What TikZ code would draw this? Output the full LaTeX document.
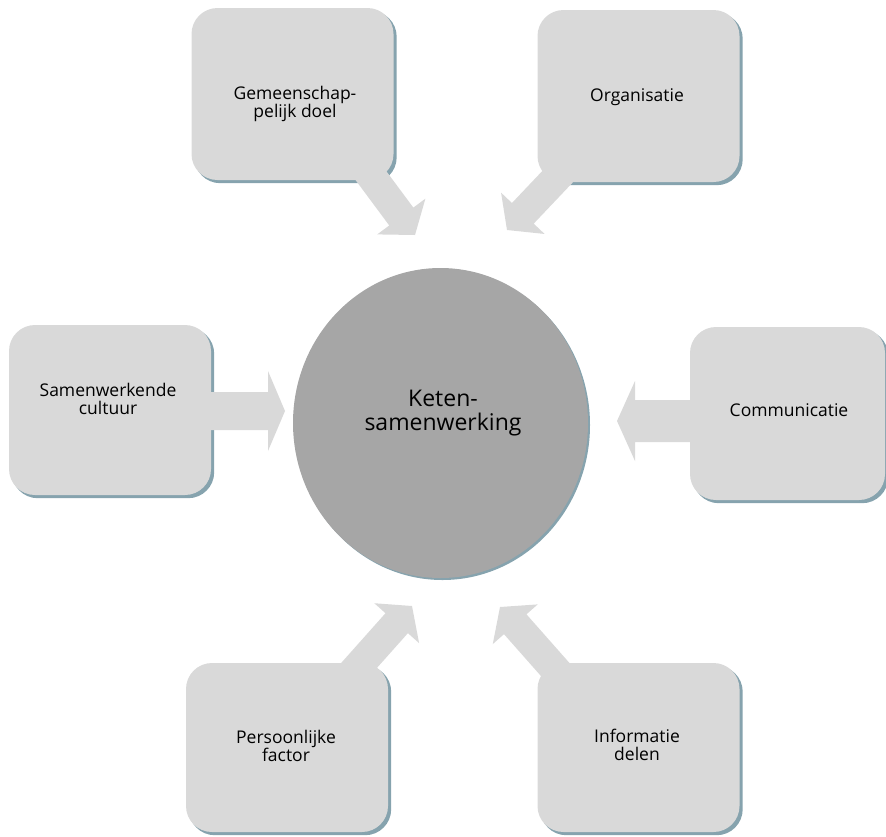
\documentclass[tikz,border=0pt]{standalone}
\usepackage{fontspec}
\setmainfont{Open Sans}
\usetikzlibrary{calc,shapes.geometric}
\pgfdeclarelayer{shadowlayer}
\pgfdeclarelayer{arrowlayer}
\pgfsetlayers{shadowlayer,arrowlayer,main}
\definecolor{boxfill}{HTML}{D9D9D9}
\definecolor{circfill}{HTML}{A6A6A6}
\definecolor{shadowc}{HTML}{86A3AE}
\tikzset{
  box/.style={fill=boxfill, rounded corners=26pt, inner sep=0pt,
    minimum width=202pt, minimum height=172pt},
  boxtext/.style={font=\fontsize{17.5}{18}\selectfont, align=center, inner sep=0pt},
  centertext/.style={font=\fontsize{23}{24}\selectfont, align=center, inner sep=0pt},
  hub/.style={ellipse, fill=circfill, inner sep=0pt,
    minimum width=295pt, minimum height=310pt},
}
\newcommand\boxshadow[1]{%
  \begin{pgfonlayer}{shadowlayer}
    \fill[shadowc, rounded corners=26pt] ($(#1.south west)+(3,3)$) rectangle ($(#1.north east)+(3,3)$);
  \end{pgfonlayer}}
% #1 start, #2 tip, #3 half shaft, #4 half head, #5 head length
\newcommand\blockarrow[5]{%
  \begin{pgfonlayer}{arrowlayer}
    \coordinate (hb) at ($(#2)!#5!(#1)$);
    \fill[boxfill] (#2) -- ($(hb)!#4!90:(#2)$) -- ($(hb)!#3!90:(#2)$)
      -- ($(#1)!#3!90:(hb)$) -- ($(#1)!#3!-90:(hb)$)
      -- ($(hb)!#3!-90:(#2)$) -- ($(hb)!#4!-90:(#2)$) -- cycle;
  \end{pgfonlayer}}
\begin{document}
\begin{tikzpicture}[x=1pt, y=-1pt]
  \useasboundingbox (0,0) rectangle (886,836);
  % hub
  \begin{pgfonlayer}{shadowlayer}
    \fill[shadowc] (442.5,425) ellipse [x radius=147.5pt, y radius=155pt];
  \end{pgfonlayer}
  \node[hub] (hub) at (440.5,423) {};
  \node[centertext] (hubtext) at (443,413) {Keten-\\samenwerking};
  % boxes
  \node[box] (gd) at (292.5,94) {};
  \boxshadow{gd}
  \node[boxtext] (gdt) at (295,104) {Gemeenschap-\\pelijk doel};
  \node[box] (org) at (638.5,96) {};
  \boxshadow{org}
  \node[boxtext] (orgt) at (637,97) {Organisatie};
  \node[box, minimum height=170pt] (sc) at (110,410) {};
  \boxshadow{sc}
  \node[boxtext] (sct) at (108,399) {Samenwerkende\\cultuur};
  \node[box, minimum width=195pt, minimum height=173pt] (com) at (787.5,413.5) {};
  \boxshadow{com}
  \node[boxtext] (comt) at (789,410) {Communicatie};
  \node[box, minimum height=169pt] (pf) at (287,747.5) {};
  \boxshadow{pf}
  \node[boxtext] (pft) at (286,746) {Persoonlijke\\factor};
  \node[box, minimum height=169pt] (id) at (638.5,747.5) {};
  \boxshadow{id}
  \node[boxtext] (idt) at (637,745) {Informatie\\delen};
  % arrow ends
  \coordinate (s1) at (320,107);  \coordinate (t1) at (415,235);
  \coordinate (s2) at (617,114);  \coordinate (t2) at (507,230);
  \coordinate (s3) at (150,411);  \coordinate (t3) at (285,411);
  \coordinate (s4) at (780,421);  \coordinate (t4) at (617,421);
  \coordinate (s5) at (306,725);  \coordinate (t5) at (412,606);
  \coordinate (s6) at (606,727);  \coordinate (t6) at (500,607);
  \blockarrow{s1}{t1}{15pt}{30pt}{23pt}
  \blockarrow{s2}{t2}{15pt}{30pt}{23pt}
  \blockarrow{s3}{t3}{19pt}{40pt}{17pt}
  \blockarrow{s4}{t4}{21pt}{40pt}{18pt}
  \blockarrow{s5}{t5}{15pt}{30pt}{23pt}
  \blockarrow{s6}{t6}{15pt}{30pt}{23pt}
\end{tikzpicture}
\end{document}
